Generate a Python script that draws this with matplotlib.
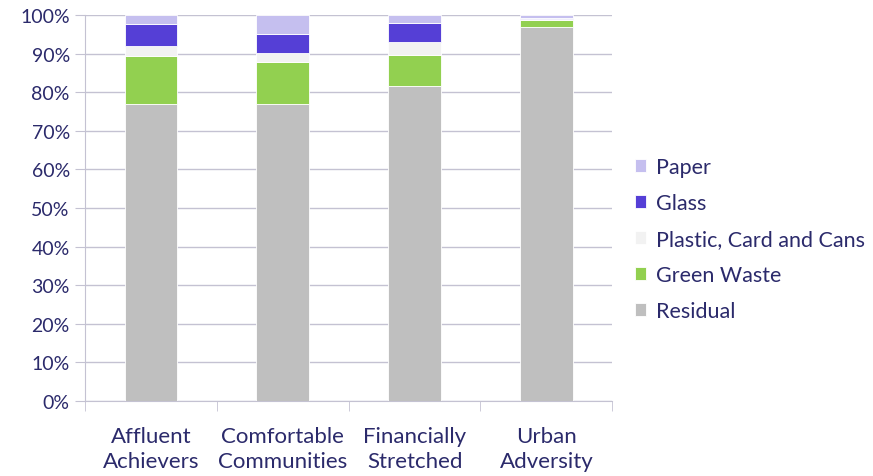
import matplotlib
matplotlib.use("Agg")
import matplotlib.pyplot as plt
import numpy as np
from matplotlib.ticker import FixedLocator, PercentFormatter

categories = ["Affluent\nAchievers", "Comfortable\nCommunities", "Financially\nStretched", "Urban\nAdversity"]
series_names = ["Residual", "Green Waste", "Plastic, Card and Cans", "Glass", "Paper"]
residual = [77.0, 77.0, 81.5, 96.8]
green_waste = [12.3, 10.7, 8.1, 1.8]
plastic = [2.7, 2.5, 3.3, 0.4]
glass = [5.7, 4.9, 5.0, 0.1]
paper = [2.3, 4.9, 2.1, 0.9]
colors = ["#BFBFBF", "#92D050", "#F2F2F2", "#553FD6", "#C5BFEF"]

text_color = "#2B2A6B"
grid_color = "#C4C2D2"

plt.rcParams['font.family'] = ['Lato', 'DejaVu Sans']

fig = plt.figure(figsize=(8.73, 4.77), dpi=100)
ax = fig.add_axes([0.0974, 0.157, 0.604, 0.8095])

data = [residual, green_waste, plastic, glass, paper]
x = np.arange(len(categories))
bottom = np.zeros(len(categories))
handles = []
tot = np.array([sum(d[i] for d in data) for i in range(len(categories))])
for vals, name, c in zip(data, series_names, colors):
    v = np.array(vals) / tot * 100
    h = ax.bar(x, v, bottom=bottom, width=0.4, color=c, edgecolor="white", linewidth=0.6, label=name, zorder=3)
    handles.append(h)
    bottom += v

ax.set_xlim(-0.5, len(categories) - 0.5)
ax.set_ylim(0, 100)
ax.yaxis.set_major_locator(FixedLocator(np.arange(0, 101, 10)))
ax.yaxis.set_major_formatter(PercentFormatter(decimals=0))
ax.grid(axis='y', color=grid_color, linewidth=1.0, zorder=0)
ax.set_axisbelow(True)

for s in ["top", "right"]:
    ax.spines[s].set_visible(False)
ax.spines["left"].set_color(grid_color)
ax.spines["bottom"].set_color(grid_color)

ax.set_xticks(x)
ax.set_xticklabels(categories, fontsize=16, color=text_color, linespacing=1.3)
ax.tick_params(axis='x', length=0, pad=18)
ax.set_xticks(np.arange(-0.5, len(categories), 1.0), minor=True)
ax.tick_params(axis='x', which='minor', length=7, color=grid_color, direction='out')
ax.tick_params(axis='y', labelsize=14, labelcolor=text_color, color=grid_color, length=7, pad=4)

leg = fig.legend(handles[::-1], series_names[::-1], loc="center left",
                 bbox_to_anchor=(0.717, 0.497), frameon=False, fontsize=15.5,
                 borderaxespad=0, borderpad=0.4,
                 handlelength=0.55, handleheight=0.55, handletextpad=0.45,
                 labelspacing=0.74, labelcolor=text_color)

fig.savefig("out.png", dpi=100)
